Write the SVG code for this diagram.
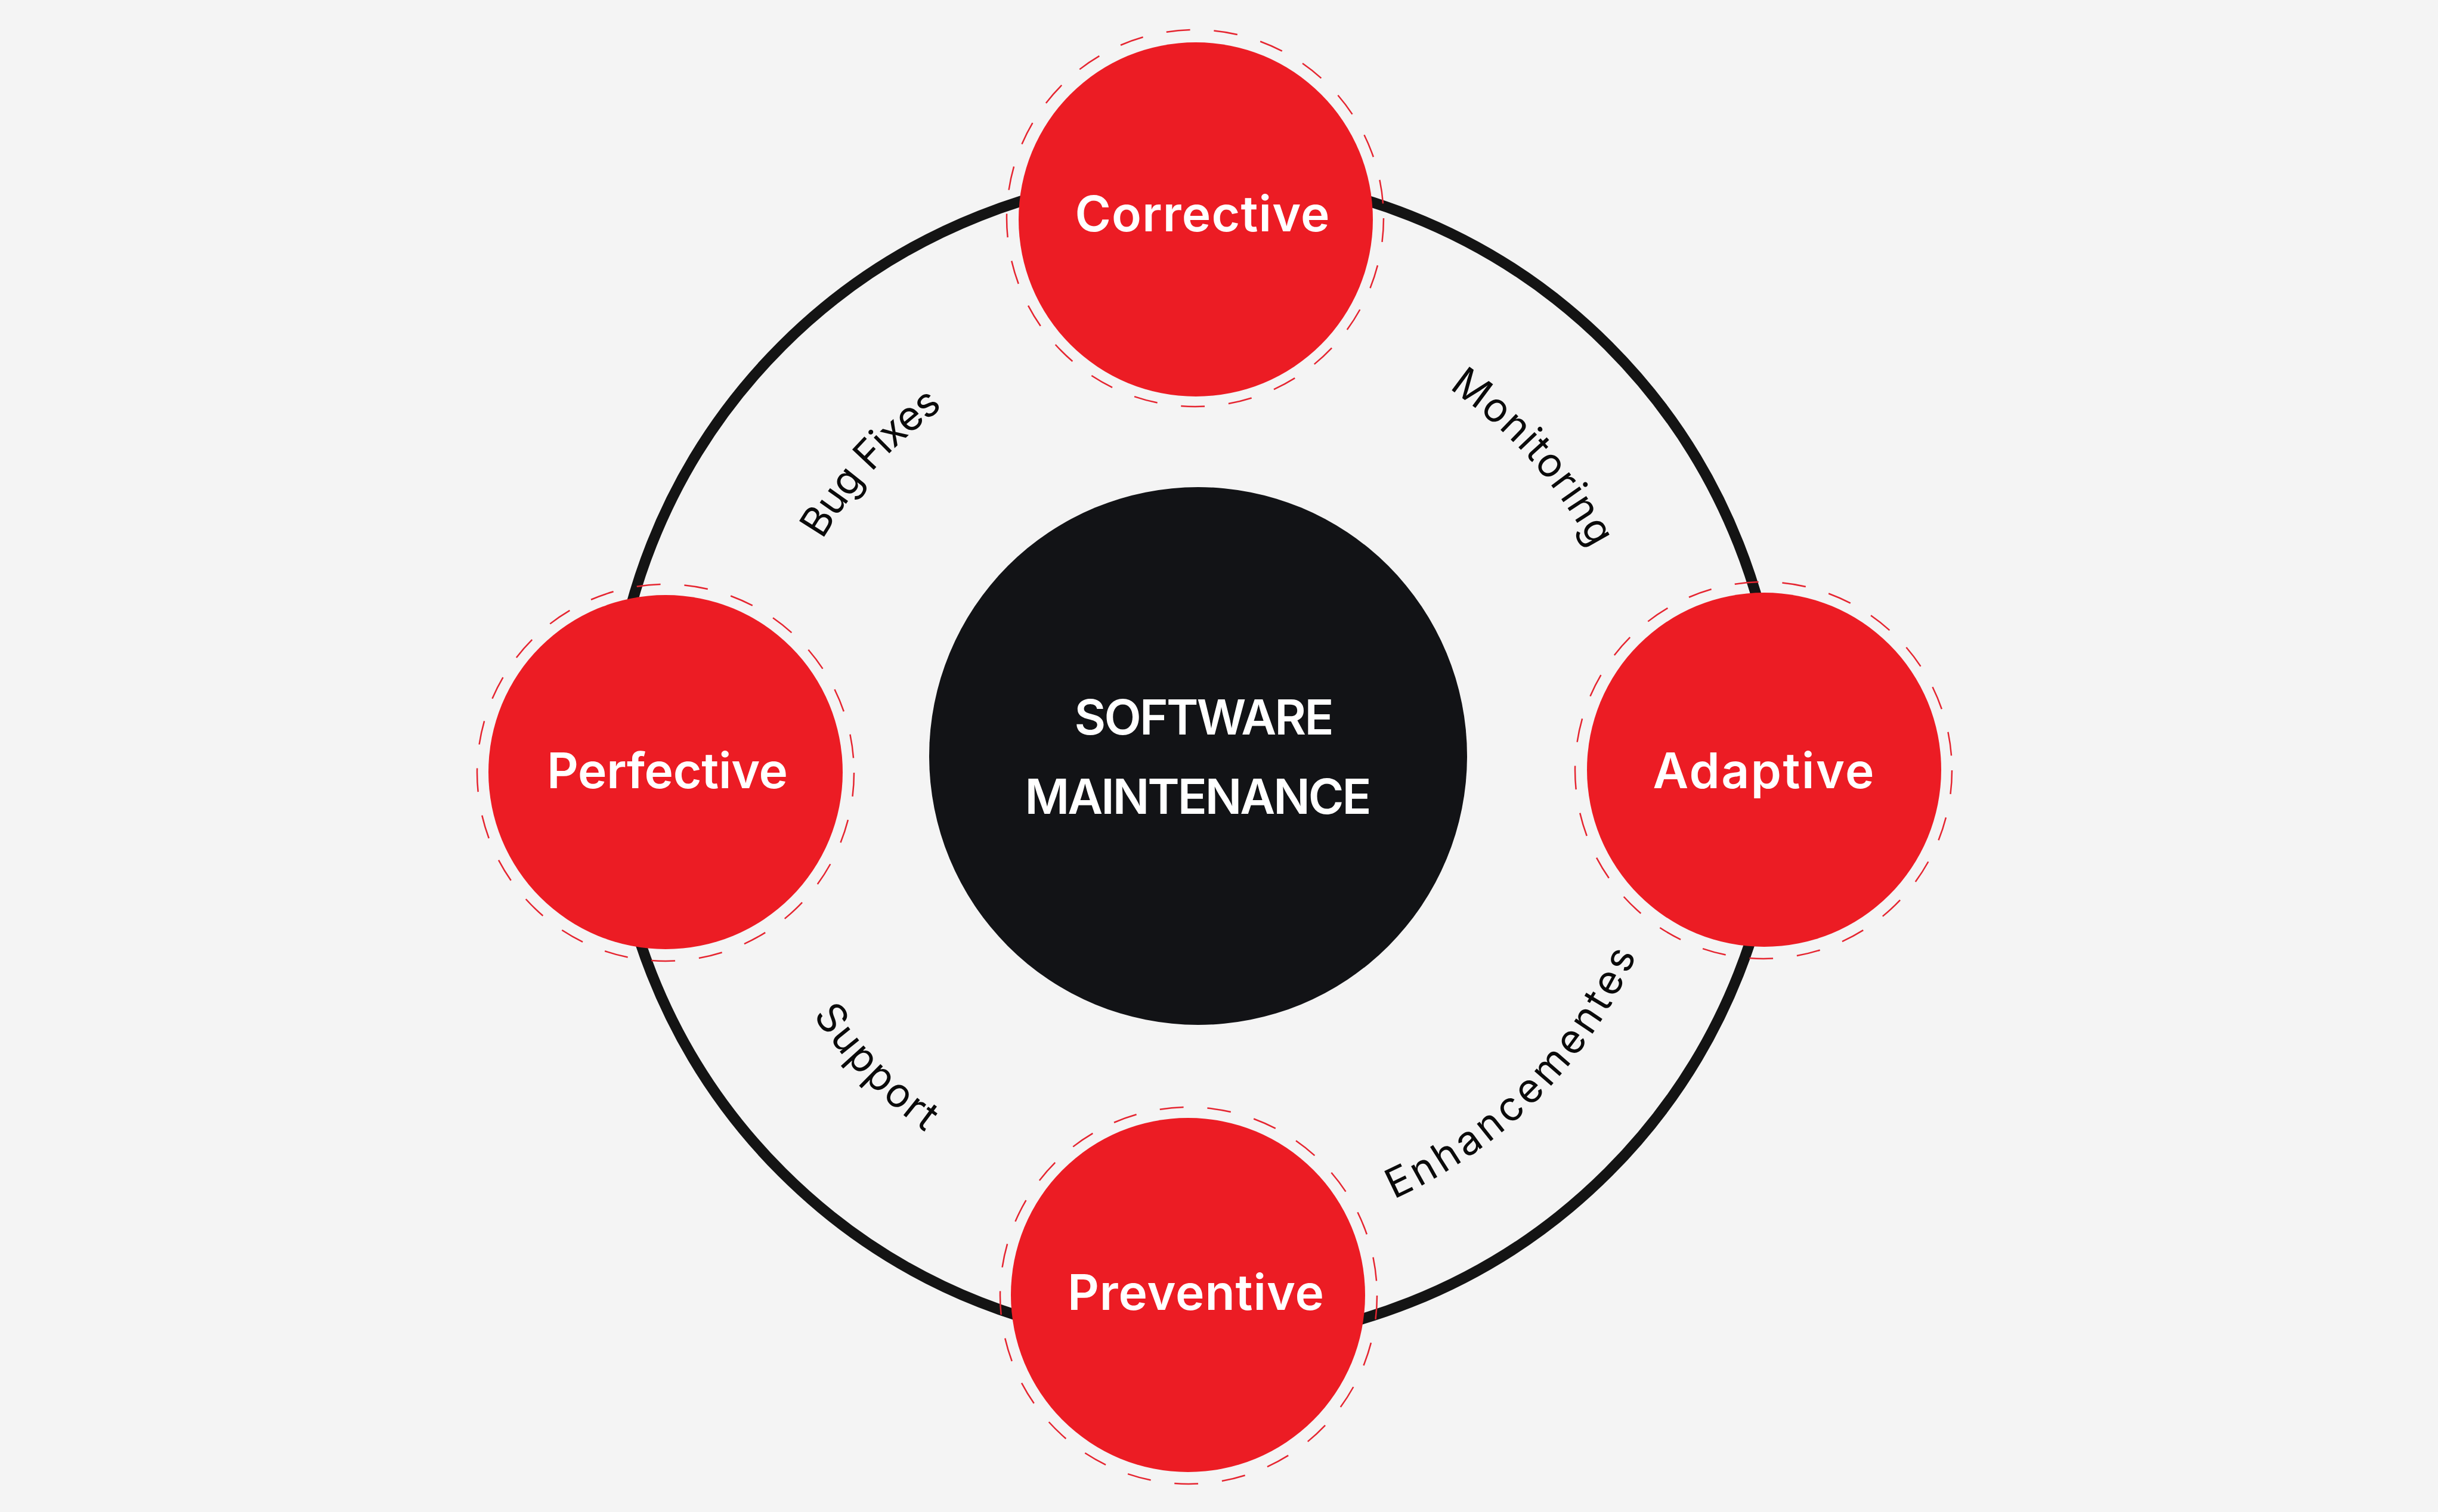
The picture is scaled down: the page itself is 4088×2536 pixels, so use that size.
<svg xmlns="http://www.w3.org/2000/svg" width="4088" height="2536" viewBox="0 0 4088 2536">
  <style>
    .node-fill { fill: #EC1C24; }
    .halo { fill: none; stroke: #E52530; stroke-width: 2.5; stroke-dasharray: 40 40; }
    .node-text { font-family: Inter, "Liberation Sans", sans-serif; font-weight: 600; font-size: 82px; fill: #FFFFFF; text-anchor: middle; }
    .hub-text { font-family: Inter, "Liberation Sans", sans-serif; font-weight: 600; font-size: 81px; fill: #FFFFFF; text-anchor: middle; }
    .ring { fill: none; stroke: #141414; stroke-width: 18; }
    .edge-label { font-family: Inter, "Liberation Sans", sans-serif; font-weight: 400; font-size: 68px; fill: #0A0A0A; }
  </style>
  <defs>
    <path id="p-bug" d="M 1285.0 1179.6 A 725 725 0 0 1 1845.8 565.5"/>
    <path id="p-mon" d="M 2175.9 539.9 A 753 753 0 0 1 2751.7 1183.8"/>
    <path id="p-sup" d="M 1241.5 1393.8 A 772 772 0 0 0 1856.7 2030.8"/>
    <path id="p-enh" d="M 2076.7 2079.7 A 810 810 0 0 0 2811.1 1341.5"/>
  </defs>
  <rect x="0" y="0" width="4088" height="2536" fill="#F4F4F4"/>

  <g id="connectors">
    <circle class="ring" cx="2004" cy="1273" r="980"/>
    <text class="edge-label"><textPath href="#p-bug" startOffset="50%" text-anchor="middle" textLength="302">Bug Fixes</textPath></text>
    <text class="edge-label"><textPath href="#p-mon" startOffset="50%" text-anchor="middle" textLength="363">Monitoring</textPath></text>
    <text class="edge-label"><textPath href="#p-sup" startOffset="50%" text-anchor="middle" textLength="273">Support</textPath></text>
    <text class="edge-label"><textPath href="#p-enh" startOffset="50%" text-anchor="middle" textLength="590">Enhancementes</textPath></text>
  </g>

  <g id="node-software-maintenance">
    <circle cx="2009" cy="1268" r="451" fill="#121316"/>
    <text class="hub-text" x="2019" y="1232" textLength="435">SOFTWARE</text>
    <text class="hub-text" x="2009" y="1365" textLength="581">MAINTENANCE</text>
  </g>

  <g id="node-corrective">
    <circle class="node-fill" cx="2005" cy="368" r="297"/>
    <circle class="halo" cx="2004" cy="366" r="316"/>
    <text class="node-text" x="2016" y="388" textLength="427">Corrective</text>
  </g>

  <g id="node-perfective">
    <circle class="node-fill" cx="1116" cy="1295" r="297"/>
    <circle class="halo" cx="1116" cy="1296" r="316"/>
    <text class="node-text" x="1119" y="1322" textLength="404">Perfective</text>
  </g>

  <g id="node-adaptive">
    <circle class="node-fill" cx="2958" cy="1291" r="297"/>
    <circle class="halo" cx="2957" cy="1292" r="316"/>
    <text class="node-text" x="2957" y="1322" textLength="371">Adaptive</text>
  </g>

  <g id="node-preventive">
    <circle class="node-fill" cx="1992" cy="2172" r="297"/>
    <circle class="halo" cx="1993" cy="2173" r="316"/>
    <text class="node-text" x="2005" y="2197" textLength="430">Preventive</text>
  </g>
</svg>
